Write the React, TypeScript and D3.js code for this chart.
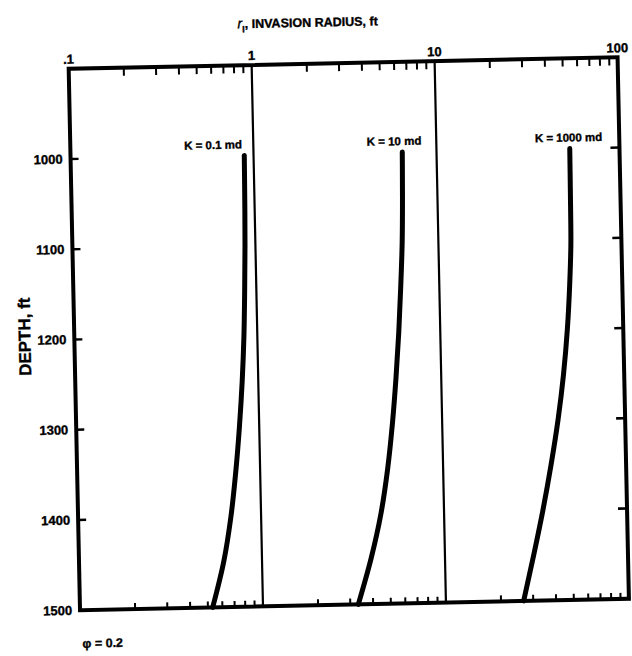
import React from 'react';
import * as d3 from 'd3';

// Depth stations (ft) at which the invasion radius is tabulated
const depths = [1000, 1050, 1100, 1150, 1200, 1250, 1300, 1350, 1400, 1450, 1500];

// Invasion radius r_I (ft) for each permeability
const radiusK01 = [0.89, 0.885, 0.877, 0.863, 0.845, 0.817, 0.78, 0.736, 0.684, 0.617, 0.531];
const radiusK10 = [6.5, 6.44, 6.34, 6.15, 5.93, 5.66, 5.35, 4.98, 4.52, 3.94, 3.32];
const radiusK1000 = [53.5, 53.3, 53.0, 51.6, 49.5, 46.6, 43.0, 38.9, 34.7, 30.5, 26.6];

const curveLabels = ['K = 0.1 md', 'K = 10 md', 'K = 1000 md'];
const curveLabelShift = [-31, -8, -1];

const depthTicks = [1000, 1100, 1200, 1300, 1400, 1500];
const radiusTicks = [0.1, 1, 10, 100];
const radiusTickLabels = ['.1', '1', '10', '100'];
const decades = [0.1, 1, 10];
const minorSteps = [2, 3, 4, 5, 6, 7, 8, 9];

const W = 632;
const H = 656;
const left = 74.3;
const right = 623.3;
const top = 63;
const bottom = 604.5;

const FONT = '"Liberation Sans", Arial, Helvetica, sans-serif';

export default function App() {
  const x = d3.scaleLog().domain([0.1, 100]).range([left, right]);
  const y = d3.scaleLinear().domain([900, 1500]).range([top, bottom]);

  const line = d3
    .line<[number, number]>()
    .x((d) => x(d[0]))
    .y((d) => y(d[1]))
    .curve(d3.curveMonotoneY);

  const series = [radiusK01, radiusK10, radiusK1000];

  const minorTicks: number[] = [];
  decades.forEach((dec) => minorSteps.forEach((k) => minorTicks.push(dec * k)));

  // heavy lettering
  const ink = { stroke: '#000', strokeWidth: 0.35 };

  return (
    <svg
      width={W}
      height={H}
      viewBox={`0 0 ${W} ${H}`}
      style={{ position: 'absolute', left: 0, top: 0, display: 'block', background: '#fff' }}
    >
      <rect x={0} y={0} width={W} height={H} fill="#fff" />
      <g transform="rotate(-1.2 348.5 334)" fontFamily={FONT} fontWeight="bold" fill="#000">
        {/* title */}
        <text x={244} y={26} fontSize={12.5} {...ink}>
          <tspan fontStyle="italic" fontWeight="normal" fontSize={14}>r</tspan>
          <tspan fontSize={9} dy={4}>I</tspan>
          <tspan dy={-4}>, INVASION RADIUS, ft</tspan>
        </text>

        {/* depth axis title */}
        <text
          transform={`translate(25, 330) rotate(-90)`}
          textAnchor="middle"
          dominantBaseline="central"
          fontSize={17}
          {...ink}
        >
          DEPTH, ft
        </text>

        {/* porosity note */}
        <text x={76} y={642} fontSize={12.5} {...ink}>
          φ = 0.2
        </text>

        {/* major verticals at decades */}
        {[1, 10].map((v) => (
          <line key={`g${v}`} x1={x(v)} x2={x(v)} y1={top} y2={bottom} stroke="#000" strokeWidth={2.2} />
        ))}

        {/* minor log ticks, top and bottom, pointing inward */}
        {minorTicks.map((v) => (
          <g key={`m${v}`}>
            <line x1={x(v)} x2={x(v)} y1={top} y2={top + 8} stroke="#000" strokeWidth={2} />
            <line x1={x(v)} x2={x(v)} y1={bottom} y2={bottom - 6} stroke="#000" strokeWidth={2} />
          </g>
        ))}

        {/* depth ticks on both sides */}
        {depthTicks.slice(0, -1).map((d) => (
          <g key={`t${d}`}>
            <line x1={left} x2={left + 8} y1={y(d)} y2={y(d)} stroke="#000" strokeWidth={2.4} />
            <line x1={right} x2={right - 9} y1={y(d)} y2={y(d)} stroke="#000" strokeWidth={2.6} />
          </g>
        ))}

        {/* depth tick labels */}
        {depthTicks.map((d) => (
          <text
            key={`dl${d}`}
            x={left - 8}
            y={y(d)}
            textAnchor="end"
            dominantBaseline="central"
            fontSize={13}
            {...ink}
          >
            {d}
          </text>
        ))}

        {/* radius tick labels */}
        {radiusTicks.map((v, i) => (
          <text key={`rl${v}`} x={x(v)} y={top - 5} textAnchor="middle" fontSize={13} {...ink}>
            {radiusTickLabels[i]}
          </text>
        ))}

        {/* frame */}
        <rect
          x={left}
          y={top}
          width={right - left}
          height={bottom - top}
          fill="none"
          stroke="#000"
          strokeWidth={4}
        />

        {/* invasion radius curves */}
        {series.map((vals, i) => {
          const pts: [number, number][] = vals.map((r, j) => [r, depths[j]]);
          return (
            <path
              key={`c${i}`}
              d={line(pts) || ''}
              fill="none"
              stroke="#000"
              strokeWidth={5}
              strokeLinecap="round"
            />
          );
        })}

        {/* curve labels */}
        {series.map((vals, i) => (
          <text
            key={`cl${i}`}
            x={x(vals[0]) + curveLabelShift[i]}
            y={y(depths[0]) - 7}
            textAnchor="middle"
            fontSize={11.5}
            {...ink}
          >
            {curveLabels[i]}
          </text>
        ))}
      </g>
    </svg>
  );
}
